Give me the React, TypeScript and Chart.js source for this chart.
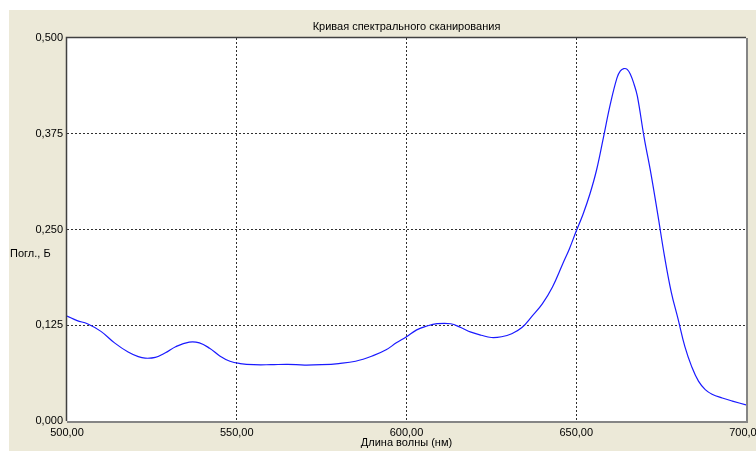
import React, { useEffect, useRef } from "react";
import { Chart, registerables } from "chart.js";

Chart.register(...registerables);

// Spectral scan: wavelength (nm) vs absorbance (B)
const wavelengths = [
  500, 503, 506, 510, 514, 518, 521, 523, 526, 529, 532, 536, 539, 542, 545, 548,
  551, 555, 560, 565, 570, 575, 580, 585, 590, 594, 597, 600, 603, 606, 609, 613,
  616, 619, 622, 625, 628, 631, 634, 637, 640, 643, 646, 648, 650, 652, 654, 656,
  658, 660, 662, 663, 664, 665, 666, 667, 668, 670, 672, 674, 676, 678, 680, 682,
  684, 686, 688, 690, 693, 696, 700,
];
const absorbance = [
  0.137, 0.131, 0.127, 0.117, 0.102, 0.09, 0.084, 0.082, 0.083, 0.089, 0.097, 0.103, 0.102, 0.095, 0.085, 0.078,
  0.075, 0.0735, 0.0735, 0.074, 0.073, 0.0735, 0.075, 0.078, 0.085, 0.093, 0.102, 0.11, 0.119, 0.124, 0.127, 0.127,
  0.122, 0.116, 0.112, 0.109, 0.11, 0.114, 0.122, 0.137, 0.153, 0.175, 0.205, 0.225, 0.248, 0.27, 0.296, 0.328,
  0.37, 0.413, 0.448, 0.457, 0.46, 0.459, 0.452, 0.44, 0.424, 0.37, 0.323, 0.27, 0.215, 0.168, 0.133, 0.097,
  0.071, 0.052, 0.041, 0.035, 0.03, 0.026, 0.021,
];

const xTicks = [500, 550, 600, 650, 700];
const yTicks = [0, 0.125, 0.25, 0.375, 0.5];

const chartTitle = "Кривая спектрального сканирования";
const xAxisTitle = "Длина волны (нм)";
const yAxisTitle = "Погл., Б";

const FONT = "Liberation Sans, Arial, sans-serif";
const PANEL = "#ece9d8";

const panelPlugin = {
  id: "panel",
  beforeDraw(chart: any) {
    const { ctx, width, height, chartArea } = chart;
    ctx.save();
    ctx.fillStyle = "#ffffff";
    ctx.fillRect(0, 0, width, height);
    ctx.fillStyle = PANEL;
    ctx.fillRect(9, 10, width - 9, height - 10);
    ctx.fillStyle = "#ffffff";
    ctx.fillRect(chartArea.left, chartArea.top, chartArea.right - chartArea.left, chartArea.bottom - chartArea.top);
    ctx.restore();
  },
  afterDraw(chart: any) {
    const { ctx, chartArea } = chart;
    const { left, right, top, bottom } = chartArea;
    ctx.save();
    // frame
    ctx.lineWidth = 2;
    ctx.strokeStyle = "#858585";
    ctx.beginPath();
    ctx.moveTo(left, bottom + 1);
    ctx.lineTo(right + 1, bottom + 1);
    ctx.lineTo(right + 1, top);
    ctx.stroke();
    ctx.lineWidth = 1.5;
    ctx.strokeStyle = "#404040";
    ctx.beginPath();
    ctx.moveTo(left - 0.5, bottom);
    ctx.lineTo(left - 0.5, top - 0.5);
    ctx.lineTo(right, top - 0.5);
    ctx.stroke();

    // titles
    ctx.fillStyle = "#000000";
    ctx.font = `11px ${FONT}`;
    ctx.textBaseline = "middle";
    ctx.textAlign = "center";
    const cx = (left + right) / 2;
    ctx.fillText(chartTitle, cx, 27);
    ctx.fillText(xAxisTitle, cx, 443);
    ctx.textAlign = "left";
    ctx.fillText(yAxisTitle, 10, 254);
    ctx.restore();
  },
};

const gridColor = (ends: number[]) => (ctx: any) => {
  const v = ctx.tick ? ctx.tick.value : null;
  return v !== null && ends.includes(v) ? "rgba(0,0,0,0)" : "#303030";
};

export default function App() {
  const canvasRef = useRef<HTMLCanvasElement | null>(null);

  useEffect(() => {
    const canvas = canvasRef.current;
    if (!canvas) return;
    const chart = new Chart(canvas, {
      type: "line",
      data: {
        datasets: [
          {
            data: wavelengths.map((x, i) => ({ x, y: absorbance[i] })),
            borderColor: "#1a1aff",
            borderWidth: 1.2,
            pointRadius: 0,
            fill: false,
            tension: 0.4,
          },
        ],
      },
      options: {
        responsive: false,
        animation: false,
        devicePixelRatio: 1,
        layout: { padding: { left: 0, top: 38, right: 54, bottom: 0 } },
        plugins: {
          legend: { display: false },
          title: { display: false },
          tooltip: { enabled: false },
        },
        scales: {
          x: {
            type: "linear",
            min: 500,
            max: 700,
            afterBuildTicks: (scale: any) => {
              scale.ticks = xTicks.map((value) => ({ value }));
            },
            afterFit: (scale: any) => {
              scale.height = 30;
            },
            ticks: {
              maxRotation: 0,
              autoSkip: false,
              padding: 5,
              color: "#000000",
              font: { family: FONT, size: 11 },
              callback: (v: any) => Number(v).toFixed(2).replace(".", ","),
            },
            grid: { color: gridColor([500, 700]), drawTicks: false, lineWidth: 1 },
            border: { display: false, dash: [2, 2] },
          },
          y: {
            type: "linear",
            min: 0,
            max: 0.5,
            afterBuildTicks: (scale: any) => {
              scale.ticks = yTicks.map((value) => ({ value }));
            },
            afterFit: (scale: any) => {
              scale.width = 67;
            },
            ticks: {
              autoSkip: false,
              padding: 4,
              color: "#000000",
              font: { family: FONT, size: 11 },
              callback: (v: any) => Number(v).toFixed(3).replace(".", ","),
            },
            grid: { color: gridColor([0, 0.5]), drawTicks: false, lineWidth: 1 },
            border: { display: false, dash: [2, 2] },
          },
        },
      },
      plugins: [panelPlugin],
    });
    return () => chart.destroy();
  }, []);

  return (
    <div
      style={{
        position: "fixed",
        left: 0,
        top: 0,
        width: 756,
        height: 451,
        overflow: "hidden",
        background: "#ffffff",
      }}
    >
      <canvas ref={canvasRef} width={800} height={451} style={{ display: "block", width: 800, height: 451 }} />
    </div>
  );
}
